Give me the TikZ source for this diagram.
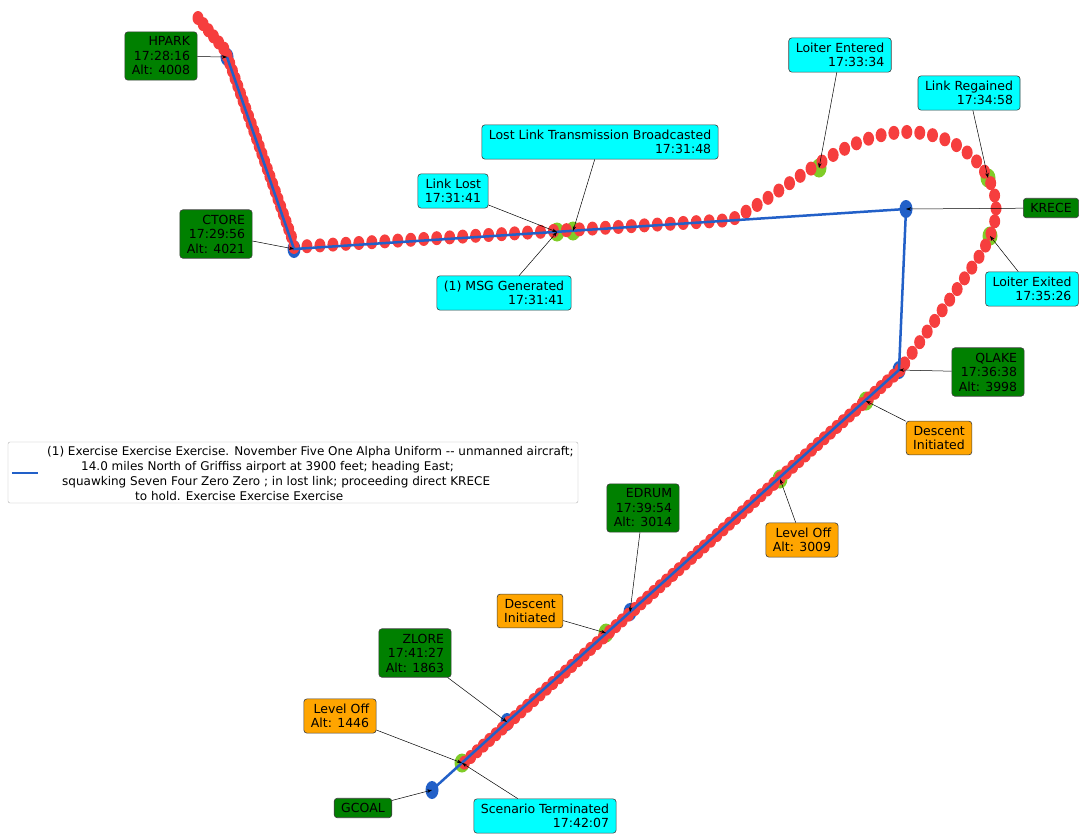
\documentclass[tikz,border=0pt]{standalone}
\usepackage{fontspec}
\setmainfont{DejaVu Sans}
\usetikzlibrary{arrows.meta,decorations.markings}
\definecolor{trackred}{RGB}{246,62,62}
\definecolor{routeblue}{RGB}{34,96,200}
\definecolor{wpgreen}{RGB}{0,128,0}
\definecolor{evcyan}{RGB}{0,255,255}
\definecolor{altorange}{RGB}{255,165,0}
\definecolor{evgreen}{RGB}{128,204,40}
\tikzset{
  lbl/.style={draw=black!75,line width=0.6pt,rounded corners=3pt,inner xsep=7pt,inner ysep=5pt,
    align=right,font=\fontsize{12.5}{14.5}\selectfont},
  wpbox/.style={lbl,fill=wpgreen},
  evbox/.style={lbl,fill=evcyan},
  altbox/.style={lbl,fill=altorange},
  leader/.style={-{Stealth[length=5pt,width=3.5pt]},black,line width=0.5pt},
  route/.style={routeblue,line width=2.5pt},
  trackdots/.style={postaction={decorate},decoration={markings,
    mark=between positions 0 and 1 step #1 with {\pgftransformresetnontranslations
      \fill[trackred] (0,0) ellipse (5.5pt and 7pt);}}}
}
\begin{document}
\begin{tikzpicture}[x=1pt,y=-1pt]
  \useasboundingbox (0,0) rectangle (1079,836);
  \coordinate (hpark) at (227,57);
  \coordinate (ctore) at (294,249);
  \coordinate (krece) at (906,209);
  \coordinate (qlake) at (899,370);
  \coordinate (edrum) at (630,612);
  \coordinate (zlore) at (507,722);
  \coordinate (gcoal) at (432,790);
  \coordinate (lost) at (557,232);
  \coordinate (bcast) at (573,231);
  \coordinate (loiterin) at (819,168);
  \coordinate (regain) at (988,178);
  \coordinate (loiterout) at (990,236);
  \coordinate (descA) at (866,401);
  \coordinate (levelA) at (780,479);
  \coordinate (descB) at (606,633);
  \coordinate (levelB) at (462,763);

  \fill[routeblue] (hpark) ellipse (6.5 and 9);
  \fill[routeblue] (ctore) ellipse (6.5 and 9);
  \fill[routeblue] (krece) ellipse (6.5 and 9);
  \fill[routeblue] (qlake) ellipse (6.5 and 9);
  \fill[routeblue] (edrum) ellipse (6.5 and 9);
  \fill[routeblue] (zlore) ellipse (6.5 and 9);
  \fill[routeblue] (gcoal) ellipse (6.5 and 9);

  \fill[evgreen] (lost) ellipse (7.5 and 9.5);
  \fill[evgreen] (bcast) ellipse (7.5 and 9.5);
  \fill[evgreen] (loiterin) ellipse (7.5 and 9.5);
  \fill[evgreen] (regain) ellipse (7.5 and 9.5);
  \fill[evgreen] (loiterout) ellipse (7.5 and 9.5);
  \fill[evgreen] (descA) ellipse (7.5 and 9.5);
  \fill[evgreen] (levelA) ellipse (7.5 and 9.5);
  \fill[evgreen] (descB) ellipse (7.5 and 9.5);
  \fill[evgreen] (levelB) ellipse (7.5 and 9.5);

  \path[trackdots=8pt] (198,18) -- (225,50) -- (294,244);
  \path[trackdots=13pt] (294,247) -- (731,220)
    .. controls (790,190) and (840,134) .. (905,132)
    .. controls (960,131) and (998,172) .. (996,212)
    .. controls (994,240) and (975,262) .. (960,285) -- (900,370);
  \path[trackdots=8.5pt] (900,370) -- (464,763);

  \draw[route] (hpark) -- (ctore) -- (krece) -- (qlake) -- (edrum) -- (zlore) -- (gcoal);

  \node[wpbox] (hparkbox) at (161,56) {HPARK\\17:28:16\\Alt: 4008};
  \node[wpbox] (ctorebox) at (216,234) {CTORE\\17:29:56\\Alt: 4021};
  \node[evbox] (lostbox) at (453,191) {Link Lost\\17:31:41};
  \node[evbox] (bcastbox) at (600,142) {Lost Link Transmission Broadcasted\\17:31:48};
  \node[evbox] (msgbox) at (504,293) {(1) MSG Generated\\17:31:41};
  \node[evbox] (loiterinbox) at (840,55) {Loiter Entered\\17:33:34};
  \node[evbox] (regainbox) at (969,93) {Link Regained\\17:34:58};
  \node[wpbox] (krecebox) at (1051,208) {KRECE};
  \node[evbox] (loiteroutbox) at (1032,289) {Loiter Exited\\17:35:26};
  \node[wpbox] (qlakebox) at (988,372) {QLAKE\\17:36:38\\Alt: 3998};
  \node[altbox] (descAbox) at (939,438) {Descent\\Initiated};
  \node[altbox] (levelAbox) at (802,540) {Level Off\\Alt: 3009};
  \node[wpbox] (edrumbox) at (643,508) {EDRUM\\17:39:54\\Alt: 3014};
  \node[altbox] (descBbox) at (530,611) {Descent\\Initiated};
  \node[wpbox] (zlorebox) at (415,653) {ZLORE\\17:41:27\\Alt: 1863};
  \node[altbox] (levelBbox) at (340,716) {Level Off\\Alt: 1446};
  \node[wpbox] (gcoalbox) at (363,808) {GCOAL};
  \node[evbox] (endbox) at (545,816) {Scenario Terminated\\17:42:07};

  \draw[leader] (hparkbox) -- (hpark);
  \draw[leader] (ctorebox) -- (ctore);
  \draw[leader] (lostbox) -- (lost);
  \draw[leader] (bcastbox) -- (bcast);
  \draw[leader] (msgbox) -- (lost);
  \draw[leader] (loiterinbox) -- (loiterin);
  \draw[leader] (regainbox) -- (regain);
  \draw[leader] (krecebox) -- (krece);
  \draw[leader] (loiteroutbox) -- (loiterout);
  \draw[leader] (qlakebox) -- (qlake);
  \draw[leader] (descAbox) -- (descA);
  \draw[leader] (levelAbox) -- (levelA);
  \draw[leader] (edrumbox) -- (edrum);
  \draw[leader] (descBbox) -- (descB);
  \draw[leader] (zlorebox) -- (zlore);
  \draw[leader] (levelBbox) -- (levelB);
  \draw[leader] (gcoalbox) -- (gcoal);
  \draw[leader] (endbox) -- (levelB);

  \node[draw=black!30,fill=white,rounded corners=2pt,minimum width=570,minimum height=61,inner sep=0pt]
    (legend) at (293,472.5) {};
  \draw[route] ([xshift=4pt,yshift=-0.5pt]legend.west) -- ++(26,0);
  \node[anchor=west,inner sep=0pt,align=left,font=\fontsize{12}{15}\selectfont] (legendtext) at (47,473.5)
    {(1) Exercise Exercise Exercise. November Five One Alpha Uniform -{}- unmanned aircraft;\\
     \hspace*{34pt}14.0 miles North of Griffiss airport at 3900 feet; heading East;\\
     \hspace*{15pt}squawking Seven Four Zero Zero ; in lost link; proceeding direct KRECE\\
     \hspace*{88pt}to hold. Exercise Exercise Exercise};
\end{tikzpicture}
\end{document}
